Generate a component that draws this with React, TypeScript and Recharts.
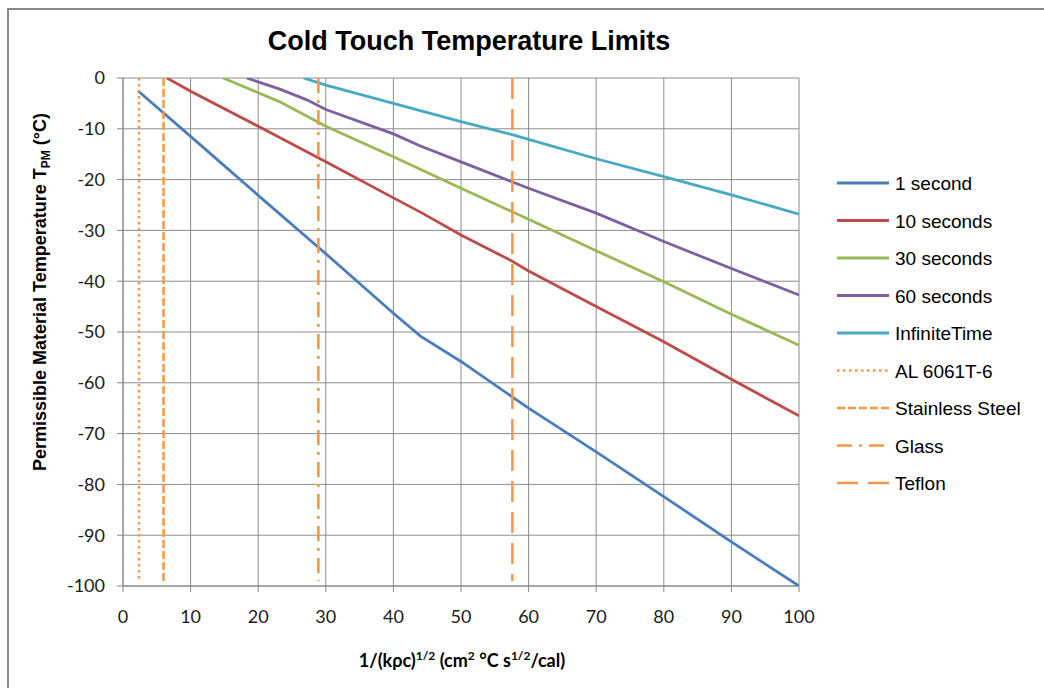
import { LineChart, Line, XAxis, YAxis, CartesianGrid } from 'recharts'

// contact-time curves (x = 1/(kρc)^1/2, y = °C)
const oneSecond = [
  { x: 2.2, y: -2.5 }, { x: 10, y: -11.5 }, { x: 20, y: -23.1 }, { x: 30, y: -34.6 },
  { x: 40, y: -46.3 }, { x: 44, y: -50.8 }, { x: 50, y: -55.8 }, { x: 60, y: -65.0 },
  { x: 70, y: -73.6 }, { x: 80, y: -82.4 }, { x: 90, y: -91.3 }, { x: 100, y: -100 },
]
const tenSeconds = [
  { x: 6.5, y: 0 }, { x: 10, y: -2.6 }, { x: 20, y: -9.5 }, { x: 30, y: -16.5 },
  { x: 40, y: -23.6 }, { x: 44, y: -26.4 }, { x: 50, y: -30.9 }, { x: 57.5, y: -36.0 },
  { x: 60, y: -38.0 }, { x: 70, y: -45.0 }, { x: 80, y: -51.9 }, { x: 90, y: -59.3 },
  { x: 100, y: -66.5 },
]
const thirtySeconds = [
  { x: 14.8, y: 0 }, { x: 20, y: -2.9 }, { x: 23.2, y: -4.7 }, { x: 30, y: -9.5 },
  { x: 40, y: -15.5 }, { x: 50, y: -21.7 }, { x: 60, y: -27.8 }, { x: 70, y: -34.0 },
  { x: 80, y: -40.1 }, { x: 90, y: -46.5 }, { x: 100, y: -52.6 },
]
const sixtySeconds = [
  { x: 18.3, y: 0 }, { x: 23.2, y: -2.2 }, { x: 27.2, y: -4.3 }, { x: 30, y: -6.2 },
  { x: 40, y: -11.0 }, { x: 44, y: -13.4 }, { x: 50, y: -16.5 }, { x: 60, y: -21.7 },
  { x: 70, y: -26.6 }, { x: 80, y: -32.2 }, { x: 90, y: -37.5 }, { x: 100, y: -42.7 },
]
const infiniteTime = [
  { x: 26.7, y: 0 }, { x: 30, y: -1.4 }, { x: 40, y: -5.0 }, { x: 50, y: -8.6 },
  { x: 57.7, y: -11.2 }, { x: 60, y: -12.1 }, { x: 70, y: -15.9 }, { x: 80, y: -19.4 },
  { x: 90, y: -23.0 }, { x: 100, y: -26.8 },
]

// materials shown as vertical markers
const materialNames = ['AL 6061T-6', 'Stainless Steel', 'Glass', 'Teflon']
const materialX = [2.37, 6.0, 28.9, 57.6]
const materialTop = 0
const materialBottom = -99

const xTicks = [0, 10, 20, 30, 40, 50, 60, 70, 80, 90, 100]
const yTicks = [-100, -90, -80, -70, -60, -50, -40, -30, -20, -10, 0]

const ORANGE = '#F79646'
const curves = [
  { name: '1 second', color: '#4A7EBB', data: oneSecond },
  { name: '10 seconds', color: '#BE4B48', data: tenSeconds },
  { name: '30 seconds', color: '#98B954', data: thirtySeconds },
  { name: '60 seconds', color: '#7D60A0', data: sixtySeconds },
  { name: 'InfiniteTime', color: '#46AAC5', data: infiniteTime },
]
const materialDash = ['2.5 3.5', '8 3', '15 7 3 7', '21 10']

const materials = materialNames.map((name, i) => ({
  name,
  dash: materialDash[i],
  data: [
    { x: materialX[i], y: materialTop },
    { x: materialX[i], y: materialBottom },
  ],
}))

const tickFont = { fontFamily: 'Lato, "Open Sans", sans-serif', fontSize: 18, fill: '#1a1a1a' }
const arial = 'Arial, "Liberation Sans", sans-serif'

export default function App() {
  const legendRows = [
    ...curves.map((c) => ({ name: c.name, color: c.color, dash: undefined as string | undefined })),
    ...materials.map((m) => ({ name: m.name, color: ORANGE, dash: m.dash })),
  ]

  return (
    <div style={{ position: 'relative', width: 1044, height: 688, overflow: 'hidden', background: '#fff' }}>
      <style>{'body{margin:0}'}</style>
      <div
        style={{
          position: 'absolute', left: 7, top: 8, width: 1100, height: 750,
          borderLeft: '2px solid #878787', borderTop: '2px solid #878787',
        }}
      />
      <div style={{ position: 'absolute', left: 0, top: 0 }}>
        <LineChart width={1044} height={688} margin={{ top: 78, right: 245, bottom: 62, left: 63 }}>
          <CartesianGrid stroke="#8c8c8c" strokeWidth={1} />
          <XAxis
            type="number"
            dataKey="x"
            domain={[0, 100]}
            ticks={xTicks}
            allowDataOverflow
            height={40}
            tickSize={6}
            tickMargin={18}
            axisLine={{ stroke: '#868686' }}
            tickLine={{ stroke: '#868686' }}
            tick={tickFont}
          />
          <YAxis
            type="number"
            dataKey="y"
            domain={[-100, 0]}
            ticks={yTicks}
            allowDataOverflow
            width={60}
            tickSize={6}
            tickMargin={12}
            axisLine={{ stroke: '#868686' }}
            tickLine={{ stroke: '#868686' }}
            tick={tickFont}
          />
          {curves.map((c) => (
            <Line
              key={c.name}
              data={c.data}
              dataKey="y"
              name={c.name}
              type="linear"
              stroke={c.color}
              strokeWidth={2.8}
              dot={false}
              activeDot={false}
              isAnimationActive={false}
            />
          ))}
          {materials.map((m) => (
            <Line
              key={m.name}
              data={m.data}
              dataKey="y"
              name={m.name}
              type="linear"
              stroke={ORANGE}
              strokeWidth={2.5}
              strokeDasharray={m.dash}
              dot={false}
              activeDot={false}
              isAnimationActive={false}
            />
          ))}
        </LineChart>
      </div>

      <svg
        width={1044}
        height={688}
        style={{ position: 'absolute', left: 0, top: 0, pointerEvents: 'none' }}
      >
        <text x={469} y={50} textAnchor="middle" fontFamily={arial} fontWeight="bold" fontSize={27} fill="#000">
          Cold Touch Temperature Limits
        </text>

        <text
          transform="translate(46,292) rotate(-90)"
          textAnchor="middle"
          fontFamily={arial}
          fontWeight="bold"
          fontSize={18}
          fill="#000"
        >
          <tspan>Permissible Material Temperature T</tspan>
          <tspan fontSize={12} dy={4}>PM</tspan>
          <tspan dy={-4}> (°C)</tspan>
        </text>

        <text
          x={462}
          y={667}
          textAnchor="middle"
          fontFamily='Lato, "Open Sans", sans-serif'
          fontWeight="bold"
          fontSize={18}
          fill="#000"
        >
          <tspan>1/(kρc)</tspan>
          <tspan fontSize={12} dy={-7}>1/2</tspan>
          <tspan dy={7}> (cm</tspan>
          <tspan fontSize={12} dy={-7}>2</tspan>
          <tspan dy={7}> °C s</tspan>
          <tspan fontSize={12} dy={-7}>1/2</tspan>
          <tspan dy={7}>/cal)</tspan>
        </text>

        {legendRows.map((r, i) => {
          const cy = 183 + i * 37.5
          return (
            <g key={r.name}>
              <line
                x1={837}
                x2={889}
                y1={cy}
                y2={cy}
                stroke={r.color}
                strokeWidth={r.dash ? 2.5 : 3}
                strokeDasharray={r.dash}
              />
              <text x={895} y={cy + 7} fontFamily={arial} fontSize={19} fill="#000">
                {r.name}
              </text>
            </g>
          )
        })}
      </svg>
    </div>
  )
}
